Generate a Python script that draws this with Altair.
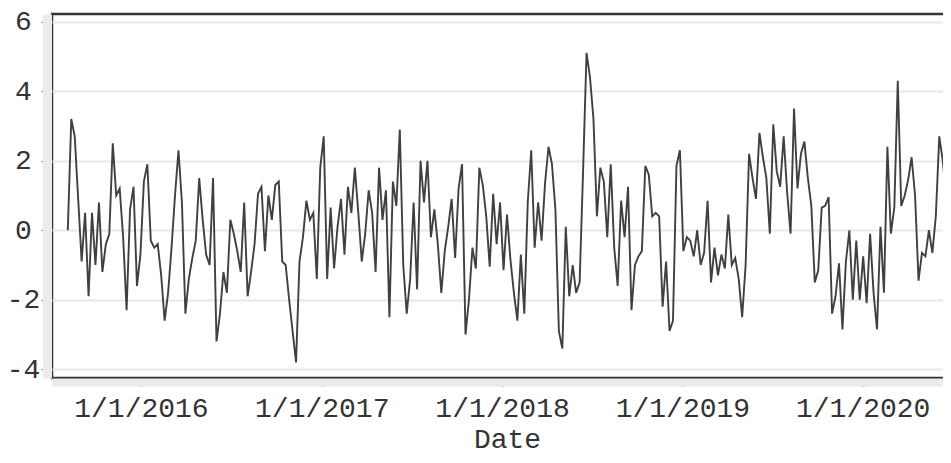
import altair as alt
import pandas as pd

# weekly series, first week 2015-08-06
start_date = "2015-08-06"
values = [
    0.0, 3.2, 2.7, 0.9, -0.9, 0.5, -1.9, 0.5, -1.0, 0.8,
    -1.2, -0.4, -0.1, 2.5, 1.0, 1.2, -0.2, -2.3, 0.6, 1.25,
    -1.6, -0.7, 1.4, 1.9, -0.3, -0.5, -0.4, -1.3, -2.6, -1.8,
    -0.5, 1.0, 2.3, 0.8, -2.4, -1.4, -0.8, -0.3, 1.5, 0.3,
    -0.7, -1.0, 1.5, -3.2, -2.4, -1.2, -1.8, 0.3, -0.1, -0.6,
    -1.2, 0.8, -1.9, -1.2, -0.4, 1.05, 1.25, -0.6, 1.0, 0.3,
    1.3, 1.4, -0.9, -1.0, -2.0, -2.9, -3.8, -0.9, -0.2, 0.85,
    0.3, 0.5, -1.4, 1.8, 2.7, -1.4, 0.65, -1.1, 0.1, 0.9,
    -0.7, 1.25, 0.5, 1.8, 0.5, -0.9, -0.1, 1.15, 0.5, -1.2,
    1.8, 0.3, 1.15, -2.5, 1.4, 0.7, 2.9, -1.0, -2.4, -1.4,
    0.8, -1.7, 2.0, 0.8, 2.0, -0.2, 0.6, -0.4, -1.8, -0.6,
    0.1, 0.9, -0.8, 1.2, 1.9, -3.0, -2.0, -0.5, -1.1, 1.8,
    1.3, 0.4, -1.05, 1.05, -0.4, 0.8, -1.15, 0.45, -0.85, -1.8,
    -2.6, -0.7, -2.4, 0.8, 2.3, -0.5, 0.8, -0.3, 1.35, 2.4,
    1.9, 0.6, -2.9, -3.4, 0.1, -1.9, -1.0, -1.8, -1.5, 1.7,
    5.1, 4.4, 3.2, 0.4, 1.8, 1.4, -0.2, 1.9, -0.5, -1.6,
    0.85, -0.2, 1.25, -2.3, -1.0, -0.75, -0.6, 1.85, 1.6, 0.4,
    0.5, 0.4, -2.2, -0.9, -2.9, -2.6, 1.85, 2.3, -0.6, -0.2,
    -0.3, -0.75, 0.0, -1.0, -0.65, 0.85, -1.5, -0.5, -1.3, -0.7,
    -1.1, 0.45, -1.0, -0.8, -1.4, -2.5, -1.0, 2.2, 1.5, 0.9,
    2.8, 2.1, 1.5, -0.1, 3.05, 1.7, 1.25, 2.7, 1.1, -0.1,
    3.5, 1.2, 2.2, 2.55, 1.5, 0.7, -1.5, -1.15, 0.65, 0.7,
    0.95, -2.4, -1.9, -0.95, -2.85, -0.9, 0.0, -2.0, -0.3, -2.0,
    -0.75, -2.1, -0.1, -1.8, -2.85, 0.1, -1.8, 2.4, -0.1, 0.65,
    4.3, 0.7, 1.0, 1.45, 2.1, 1.0, -1.45, -0.65, -0.75, 0.0,
    -0.65, 0.4, 2.7, 2.0, 1.0,
]
dates = pd.date_range(start_date, periods=len(values), freq="7D").strftime("%Y-%m-%d").tolist()

y_ticks = [-4, -2, 0, 2, 4, 6]
x_tick_years = [2016, 2017, 2018, 2019, 2020]

df = pd.DataFrame({"Date": dates, "Value": values})

FONT = "Liberation Mono"

chart = (
    alt.Chart(df)
    .mark_line(color="#404040", strokeWidth=1.9)
    .encode(
        x=alt.X(
            "Date:T",
            scale=alt.Scale(
                type="utc",
                domain=[
                    alt.DateTime(year=2015, month=7, date=5, utc=True),
                    alt.DateTime(year=2020, month=7, date=20, utc=True),
                ],
            ),
            axis=alt.Axis(
                values=[alt.DateTime(year=yy, month=1, date=1, utc=True) for yy in x_tick_years],
                format="%-m/%-d/%Y",
                labelFont=FONT,
                labelFontSize=28,
                labelColor="#333333",
                labelPadding=8,
                labelFlush=False,
                tickColor="#444444",
                tickSize=4,
                tickWidth=2,
                offset=4,
                domainColor="#ebebeb",
                domainWidth=8,
                grid=False,
                title="Date",
                titleFont=FONT,
                titleFontSize=28,
                titleFontWeight="normal",
                titleColor="#333333",
                titlePadding=3,
            ),
        ),
        y=alt.Y(
            "Value:Q",
            scale=alt.Scale(domain=[-4.25, 6.22], nice=False, zero=False),
            axis=alt.Axis(
                values=y_ticks,
                labelExpr="'' + datum.value",
                labelAlign="center",
                labelBaseline="middle",
                labelPadding=18,
                labelFont=FONT,
                labelFontSize=28,
                labelColor="#333333",
                tickColor="#999999",
                tickSize=6,
                tickWidth=1.5,
                offset=5,
                domainColor="#ebebeb",
                domainWidth=9,
                grid=True,
                gridColor="#e8e8e8",
                gridWidth=2,
                title=None,
            ),
        ),
    )
    .properties(
        width=910,
        height=364,
        autosize=alt.AutoSizeParams(type="none"),
        padding={"left": 44, "top": 6, "right": -19, "bottom": 77},
    )
    .configure_view(stroke="#333333", strokeWidth=2.5)
)

chart.save("out.html", embed_options={"renderer": "svg", "actions": False})
